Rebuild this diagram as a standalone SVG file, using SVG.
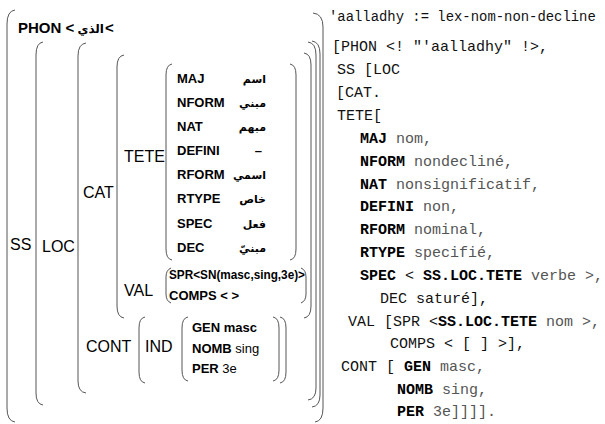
<svg xmlns="http://www.w3.org/2000/svg" width="605" height="424" viewBox="0 0 605 424">
<style>
.br{fill:none;stroke:#555;stroke-width:1}
.k{font-family:"Liberation Sans",Arial,sans-serif;font-weight:bold;font-size:13px;fill:#000}
.L{font-family:"Liberation Sans",Arial,sans-serif;font-size:16px;fill:#000}
.ar{font-family:"DejaVu Sans",sans-serif;font-weight:bold;font-size:11px;fill:#000}
.m{font-family:"Liberation Mono","Courier New",monospace;font-size:15px;fill:#111}
.m .b{font-weight:bold;fill:#000}
.m .g{fill:#555}
</style>
<rect width="605" height="424" fill="#fff"/>
<g id="connectors">
<path class="br" d="M15 10 Q7 11 7 24 V408 Q7 421 15 422"/>
<path class="br" d="M43 42 Q36 43 36 55 V393 Q36 404 43 405"/>
<path class="br" d="M86 43 Q78 44 78 56 V381 Q78 392 86 393"/>
<path class="br" d="M124 55 Q117 56 117 67 V306 Q117 317 124 318"/>
<path class="br" d="M172 64 Q166 65 166 75 V249 Q166 259 172 260"/>
<path class="br" d="M171 268 Q166 270 166 277 V294 Q166 301 171 303"/>
<path class="br" d="M145 317 Q139 318 139 328 V372 Q139 382 145 383"/>
<path class="br" d="M188 317 Q182 318 182 328 V370 Q182 380 188 381"/>
<path class="br" d="M290 64 Q296 65 296 75 V249 Q296 259 290 260"/>
<path class="br" d="M301 268 Q306 270 306 277 V294 Q306 301 301 303"/>
<path class="br" d="M304 53 Q311 54 311 65 V306 Q311 317 304 318"/>
<path class="br" d="M308 42 Q316 43 316 55 V388 Q316 399 308 400"/>
<path class="br" d="M312 41 Q320 42 320 54 V395 Q320 406 312 407"/>
<path class="br" d="M313 13 Q323 14 323 27 V408 Q323 421 315 422"/>
<path class="br" d="M273 317 Q279 318 279 328 V370 Q279 380 273 381"/>
<path class="br" d="M280 317 Q286 318 286 328 V372 Q286 382 280 383"/>
</g>
<g id="phon">
<text class="k" x="18" y="33" style="font-size:15px">PHON &lt;</text>
<text class="ar" x="104" y="33" text-anchor="end" style="font-size:12px">الذي</text>
<text class="k" x="105" y="33" style="font-size:15px">&lt;</text>
</g>
<g id="labels">
<text class="L" x="10" y="250">SS</text>
<text class="L" x="42" y="252">LOC</text>
<text class="L" x="83" y="198">CAT</text>
<text class="L" x="124" y="162">TETE</text>
<text class="L" x="124" y="296">VAL</text>
<text class="L" x="86" y="352">CONT</text>
<text class="L" x="145" y="352">IND</text>
</g>
<g id="tete">
<text class="k" x="177" y="83">MAJ</text>
<text class="k" x="177" y="107">NFORM</text>
<text class="k" x="177" y="131">NAT</text>
<text class="k" x="177" y="155">DEFINI</text>
<text class="k" x="177" y="179">RFORM</text>
<text class="k" x="177" y="203">RTYPE</text>
<text class="k" x="177" y="228">SPEC</text>
<text class="k" x="177" y="252">DEC</text>
<text class="ar" x="266" y="83" text-anchor="end">اسم</text>
<text class="ar" x="266" y="107" text-anchor="end">مبني</text>
<text class="ar" x="266" y="131" text-anchor="end">مبهم</text>
<text class="k" x="262" y="155" text-anchor="end">–</text>
<text class="ar" x="266" y="179" text-anchor="end">اسمي</text>
<text class="ar" x="266" y="203" text-anchor="end">خاص</text>
<text class="ar" x="266" y="228" text-anchor="end">فعل</text>
<text class="ar" x="266" y="252" text-anchor="end">مبنيّ</text>
</g>
<g id="val">
<text class="k" x="169" y="279" textLength="136" lengthAdjust="spacingAndGlyphs">SPR&lt;SN(masc,sing,3e)&gt;</text>
<text class="k" x="169" y="300">COMPS &lt; &gt;</text>
</g>
<g id="cont">
<text class="k" x="192" y="332">GEN  masc</text>
<text class="k" x="192" y="353">NOMB <tspan font-weight="normal">sing</tspan></text>
<text class="k" x="192" y="373">PER <tspan font-weight="normal">3e</tspan></text>
</g>
<g id="code">
<text class="m" x="329" y="21" style="font-size:13.9px">'aalladhy := lex-nom-non-decline</text>
<text class="m" x="332" y="51">[PHON &lt;! "'aalladhy" !&gt;,</text>
<text class="m" x="337" y="74">SS [LOC</text>
<text class="m" x="336" y="97">[CAT.</text>
<text class="m" x="337" y="120">TETE[</text>
<text class="m" x="360" y="143"><tspan class="b">MAJ</tspan> <tspan class="g">nom,</tspan></text>
<text class="m" x="360" y="166"><tspan class="b">NFORM</tspan> <tspan class="g">nondecliné,</tspan></text>
<text class="m" x="360" y="189"><tspan class="b">NAT</tspan> <tspan class="g">nonsignificatif,</tspan></text>
<text class="m" x="360" y="211"><tspan class="b">DEFINI</tspan> <tspan class="g">non,</tspan></text>
<text class="m" x="360" y="234"><tspan class="b">RFORM</tspan> <tspan class="g">nominal,</tspan></text>
<text class="m" x="360" y="257"><tspan class="b">RTYPE</tspan> <tspan class="g">specifié,</tspan></text>
<text class="m" x="360" y="280"><tspan class="b">SPEC</tspan> &lt; <tspan class="b">SS.LOC.TETE</tspan> <tspan class="g">verbe &gt;,</tspan></text>
<text class="m" x="380" y="303">DEC saturé],</text>
<text class="m" x="348" y="326">VAL [SPR &lt;<tspan class="b">SS.LOC.TETE</tspan> <tspan class="g">nom &gt;,</tspan></text>
<text class="m" x="390" y="348">COMPS &lt; [ ] &gt;],</text>
<text class="m" x="341" y="371">CONT [ <tspan class="b">GEN</tspan> <tspan class="g">masc,</tspan></text>
<text class="m" x="397" y="394"><tspan class="b">NOMB</tspan> <tspan class="g">sing,</tspan></text>
<text class="m" x="397" y="416"><tspan class="b">PER</tspan> <tspan class="g">3e]]]].</tspan></text>
</g>
</svg>
